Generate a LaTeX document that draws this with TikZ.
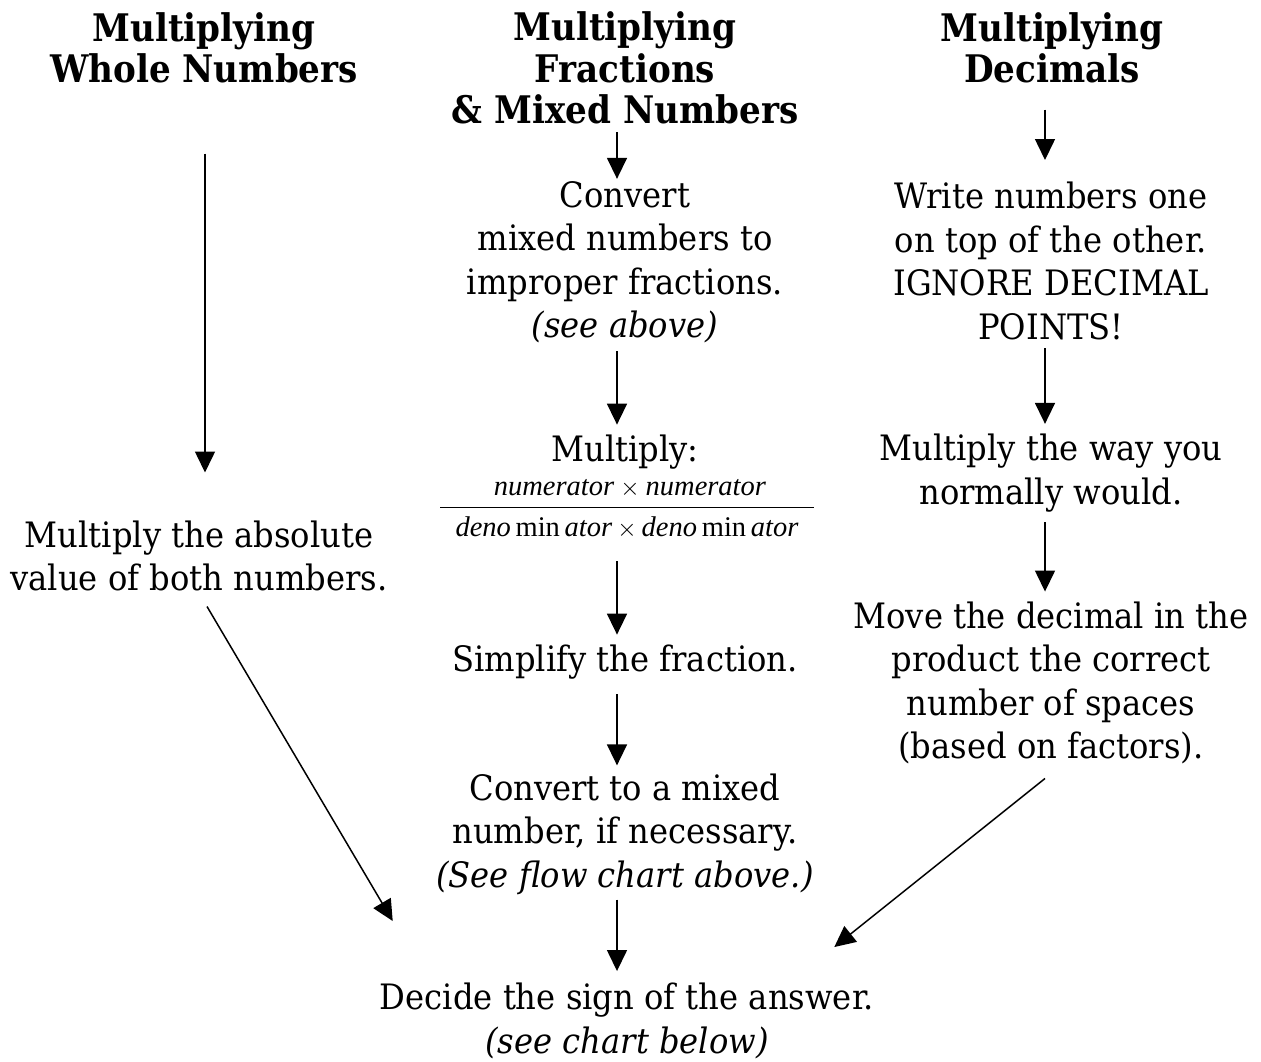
\documentclass[tikz,border=0pt]{standalone}
\usepackage{fontspec}
\setmainfont{DejaVu Serif}[FakeStretch=0.92]
\newfontfamily\headfont{DejaVu Serif}[FakeStretch=0.9]
\newfontfamily\fracfont{Liberation Serif}
\usetikzlibrary{arrows.meta,calc}
\begin{document}
\begin{tikzpicture}[x=1pt,y=-1pt,
  txt/.style={align=center,inner sep=0pt,font=\fontsize{35}{43.5}\selectfont},
  head/.style={align=center,inner sep=0pt,font=\headfont\bfseries\fontsize{38}{41.5}\selectfont},
  frac/.style={inner sep=0pt,font=\fracfont\fontsize{28.5}{31}\selectfont},
  arr/.style={-{Triangle[width=20pt,length=21pt]},line width=1.5pt},
  rule/.style={line width=1.2pt}]
\useasboundingbox[fill=white] (0,0) rectangle (1261,1061);
% headings
\node[head] (h1) at (204,48) {Multiplying\\Whole Numbers};
\node[head] (h2) at (625,68) {Multiplying\\Fractions\\\& Mixed Numbers};
\node[head] (h3) at (1052,48) {Multiplying\\Decimals};
% column 1
\node[txt] (c1) at (199,556) {Multiply the absolute\\value of both numbers.};
% column 2
\node[txt] (f1) at (625,262) {Convert\\mixed numbers to\\improper fractions.\\\textit{(see above)}};
\node[txt] (f2) at (625,452) {Multiply:};
\node[frac] (num) at (630,489) {\textit{numerator}\hspace{6pt}$\times$\hspace{6pt}\textit{numerator}};
\node[frac] (den) at (627,528) {\textit{deno}\,min\,\textit{ator}\hspace{5pt}$\times$\hspace{5pt}\textit{deno}\,min\,\textit{ator}};
\coordinate (mid) at ($(num.south)!0.5!(den.north)$);
\draw[rule] ($(den.west |- mid)+(-15,0)$) -- ($(den.east |- mid)+(15,0)$);
\node[txt] (f3) at (625,662) {Simplify the fraction.};
\node[txt] (f4) at (625,834) {Convert to a mixed\\number, if necessary.\\\textit{(See flow chart above.)}};
% column 3
\node[txt] (d1) at (1051,261) {Write numbers one\\on top of the other.\\IGNORE DECIMAL\\POINTS!};
\node[txt] (d2) at (1051,473) {Multiply the way you\\normally would.};
\node[txt] (d3) at (1051,683) {Move the decimal in the\\product the correct\\number of spaces\\(based on factors).};
% final
\node[txt] (fin) at (627,1021) {Decide the sign of the answer.\\\textit{(see chart below)}};
% arrows
\coordinate (a1) at (205,0);
\coordinate (a2) at (617,0);
\coordinate (a3) at (1045,0);
\draw[arr] ($(h1.south -| a1)+(0,70)$) -- ($(c1.north -| a1)+(0,-48)$);
\draw[arr] ($(h2.south -| a2)+(0,8)$) -- ($(f1.north -| a2)+(0,-2)$);
\draw[arr] ($(f1.south -| a2)+(0,8)$) -- ($(f2.north -| a2)+(0,-10)$);
\draw[arr] ($(den.south -| a2)+(0,22)$) -- ($(f3.north -| a2)+(0,-10)$);
\draw[arr] ($(f3.south -| a2)+(0,15)$) -- ($(f4.north -| a2)+(0,-8)$);
\draw[arr] ($(f4.south -| a2)+(0,5)$) -- ($(fin.north -| a2)+(0,-12)$);
\draw[arr] ($(h3.south -| a3)+(0,26)$) -- ($(d1.north -| a3)+(0,-22)$);
\draw[arr] ($(d1.south -| a3)+(0,8)$) -- ($(d2.north -| a3)+(0,-10)$);
\draw[arr] ($(d2.south -| a3)+(0,10)$) -- ($(d3.north -| a3)+(0,-10)$);
\draw[arr] ($(c1.south)+(8,15)$) -- ($(fin.north west)+(13,-62)$);
\draw[arr] ($(d3.south)+(-6,14)$) -- ($(fin.north east)+(-40,-36)$);
\end{tikzpicture}
\end{document}
